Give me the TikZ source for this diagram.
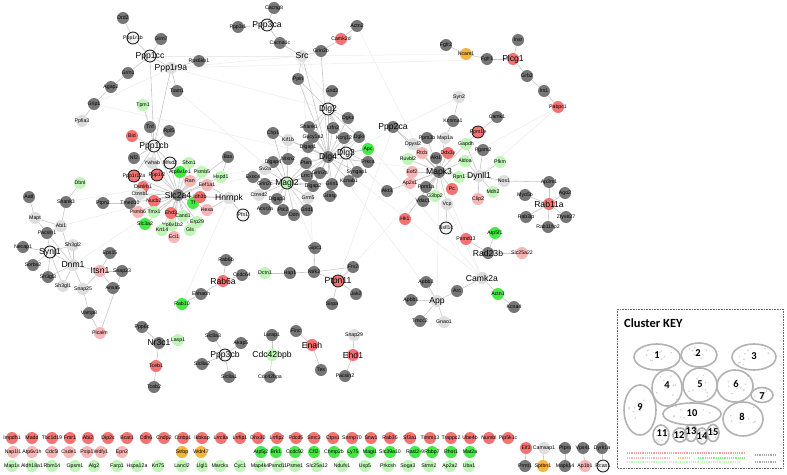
\documentclass[tikz,border=0pt]{standalone}
\usepackage{fontspec}
\setmainfont{Liberation Sans}
\newfontfamily\keyfont{Carlito}
\usetikzlibrary{calc}
\pgfdeclarelayer{edges}
\pgfsetlayers{edges,main}
\definecolor{cDk}{HTML}{767676}
\definecolor{cLy}{HTML}{DEDEDE}
\definecolor{cRd}{HTML}{F47272}
\definecolor{cPk}{HTML}{F8B5B5}
\definecolor{cGn}{HTML}{45E845}
\definecolor{cLg}{HTML}{C0F5B8}
\definecolor{cOr}{HTML}{F4B43E}

\begin{document}
\begin{tikzpicture}[x=1pt, y=-1pt,
  nd/.style={circle, inner sep=0pt, minimum size=12pt},
  dk/.style={nd, fill=cDk}, ly/.style={nd, fill=cLy}, rd/.style={nd, fill=cRd},
  pk/.style={nd, fill=cPk}, gn/.style={nd, fill=cGn}, lg/.style={nd, fill=cLg},
  og/.style={nd, fill=cOr}, wt/.style={nd, fill=white!95!black},
  ring/.style={draw=black!85, line width=0.9pt},
  t/.style={label={[font=\fontsize{5.2}{6}\selectfont, inner sep=0pt]center:#1}},
  big/.style={label={[font=\fontsize{8.6}{9}\selectfont, inner sep=0pt]center:#1}},
  ed/.style={draw=black!22, line width=0.6pt},
  fe/.style={draw=black!8, line width=0.5pt},
  kel/.style={draw=black!30, line width=1.6pt},
  knum/.style={font=\keyfont\bfseries\fontsize{10.5}{11}\selectfont, inner sep=0pt}]
\useasboundingbox (0,0) rectangle (787,474);

% Ppp1cc / Ppp1cb
\node[dk, t=Drd2] (Drd2) at (123,18) {};
\node[wt, ring, t=Ppp1r1b] (Ppp1r1b) at (133,38) {};
\node[dk, t=Grm7] (Grm7) at (161,39) {};
\node[wt, ring, big=Ppp1cc] (Ppp1cc) at (150,56) {};
\node[ly, big=Ppp1r9a] (Ppp1r9a) at (171,68) {};
\node[dk, t=Rps6kb1] (Rps6kb1) at (199,61) {};
\node[dk, t=Grm1] (Grm1) at (128,73) {};
\node[dk, t=Agap2] (Agap2) at (111,87) {};
\node[dk, t=Tiam1] (Tiam1) at (177,91) {};
\node[dk, t=Grip1] (Grip1) at (94,104) {};
\node[ly, t=Ppfia3] (Ppfia3) at (82,121) {};
\node[lg, t=Tpm1] (Tpm1) at (143,105) {};
\node[dk, t=Tnf] (Tnf) at (150,127) {};
\node[dk, t=Rpl5] (Rpl5) at (169,131) {};
\node[rd, t=Bid] (Bid) at (132,136) {};
\node[wt, ring, big=Ppp1cb] (Ppp1cb) at (154,146) {};
\node[dk, t=Ppp3r1] (Ppp3r1) at (238,27) {};

% Src / Dlg4 / Magi2
\node[dk, t=Cacng8] (Cacng8) at (274,8) {};
\node[wt, ring, big=Ppp3ca] (Ppp3ca) at (267,25) {};
\node[dk, t=Cacna1c] (Cacna1c) at (280,43) {};
\node[ly, big=Src] (Src) at (302,56) {};
\node[dk, t=Grin2b] (Grin2b) at (321,51) {};
\node[rd, t=Camk2d] (Camk2d) at (341,39) {};
\node[dk, t=Actn2] (Actn2) at (357,26) {};
\node[dk, t=Ppin] (Ppin) at (298,79) {};
\node[dk, t=Grid2] (Grid2) at (332,91) {};
\node[wt, ring, big=Dlg2] (Dlg2) at (328,109) {};
\node[dk, t=Dgkz] (Dgkz) at (348,118) {};
\node[dk, t=Chp1] (Chp1) at (273,133) {};
\node[ly, t=Kif1b] (Kif1b) at (288,140) {};
\node[dk, t=Shank1] (Shank1) at (309,127) {};
\node[dk, t=Lrfn2] (Lrfn2) at (333,128) {};
\node[dk, t=Gucy1a2] (Gucy1a2) at (313,137) {};
\node[dk, t=Kcnj12] (Kcnj12) at (344,138) {};
\node[dk, t=Dgki] (Dgki) at (359,137) {};
\node[dk, t=Dlgap1] (Dlgap1) at (308,147) {};
\node[gn, t=Apc] (Apc) at (368,149) {};
\node[dk, big=Dlg4] (Dlg4) at (328,157) {};
\node[wt, ring, big=Dlg3] (Dlg3) at (346,153) {};
\node[dk, t=Dlgap4] (Dlgap4) at (273,162) {};
\node[dk, t=Nrxn2] (Nrxn2) at (288,159) {};
\node[ly, t=Sv2a] (Sv2a) at (265,169) {};
\node[dk, t=Pten] (Pten) at (306,163) {};
\node[dk, t=Lrrc7] (Lrrc7) at (307,176) {};
\node[dk, t=Grin2a] (Grin2a) at (320,173) {};
\node[dk, t=Exoc4] (Exoc4) at (253,177) {};
\node[dk, t=Grin2c] (Grin2c) at (265,184) {};
\node[lg, ring, big=Magi2] (Magi2) at (287,183) {};
\node[dk, t=Dlgap2] (Dlgap2) at (313,186) {};
\node[dk, t=Grin1] (Grin1) at (332,184) {};
\node[dk, t=Syngap1] (Syngap1) at (357,172) {};
\node[dk, t=Kcnab1] (Kcnab1) at (349,181) {};
\node[dk, t=Prkca] (Prkca) at (368,162) {};
\node[ly, t=Ctnnd2] (Ctnnd2) at (259,195) {};
\node[dk, t=Dlgap3] (Dlgap3) at (277,199) {};
\node[ly, t=Grm5] (Grm5) at (308,198) {};
\node[dk, t=Grasp] (Grasp) at (330,196) {};
\node[dk, t=Acvr2a] (Acvr2a) at (265,209) {};
\node[dk, t=Ptk2] (Ptk2) at (283,210) {};
\node[dk, t=Grid1] (Grid1) at (307,210) {};
\node[dk, t=Ddn] (Ddn) at (294,215) {};

% Slc2a4 / Hnrnpk
\node[dk, t=Nf2] (Nf2) at (134,158) {};
\node[ly, t=Ywhab] (Ywhab) at (152,163) {};
\node[wt, ring, t=Mfsd2] (Mfsd2) at (170,163) {};
\node[lg, t=Sfxn1] (Sfxn1) at (189,163) {};
\node[rd, ring, t=Ppp1r12a] (Ppp1r12a) at (134,176) {};
\node[rd, ring, t=Ppp1r2] (Ppp1r2) at (157,175) {};
\node[gn, t=Atp6v1e1] (Atp6v1e1) at (180,172) {};
\node[pk, t=Ran] (Ran) at (190,181) {};
\node[rd, t=Dynlrb1] (Dynlrb1) at (143,187) {};
\node[ly, t=Ctnnb1] (Ctnnb1) at (140,194) {};
\node[dk, big=Slc2a4] (Slc2a4) at (178,195) {};
\node[rd, t=Nucb2] (Nucb2) at (154,201) {};
\node[dk, t=Tmed10] (Tmed10) at (130,203) {};
\node[dk, t=Ptpn2] (Ptpn2) at (103,203) {};
\node[pk, t=Psmb6] (Psmb6) at (138,212) {};
\node[lg, t=Tmx1] (Tmx1) at (154,212) {};
\node[rd, t=Ehd3] (Ehd3) at (171,213) {};
\node[gn, t=Tf] (Tf) at (193,203) {};
\node[lg, t=Cand1] (Cand1) at (183,216) {};
\node[lg, t=Erp29] (Erp29) at (197,222) {};
\node[gn, t=Slc3a2] (Slc3a2) at (145,224) {};
\node[lg, t=Atp6v1b2] (Atp6v1b2) at (172,225) {};
\node[lg, t=Krt14] (Krt14) at (162,230) {};
\node[lg, t=Gls] (Gls) at (190,230) {};
\node[pk, t=Eci1] (Eci1) at (174,237) {};
\node[rd, t=Idh3b] (Idh3b) at (200,197) {};
\node[lg, t=Psmb5] (Psmb5) at (202,172) {};
\node[pk, t=Eef1a1] (Eef1a1) at (207,185) {};
\node[pk, t=Hexa] (Hexa) at (207,210) {};
\node[lg, t=Hspd1] (Hspd1) at (221,177) {};
\node[dk, t=Bax] (Bax) at (228,157) {};
\node[ly, big=Hnrnpk] (Hnrnpk) at (229,198) {};
\node[wt, ring, t=Pfn1] (Pfn1) at (243,215) {};

% Synj1 / Dnm1 / Itsn1
\node[lg, t=Dbnl] (Dbnl) at (80,183) {};
\node[dk, t=Aatf] (Aatf) at (29,197) {};
\node[dk, t=Shank3] (Shank3) at (66,202) {};
\node[ly, t=Mapt] (Mapt) at (35,218) {};
\node[ly, t=Abi1] (Abi1) at (61,226) {};
\node[dk, t=Pacsin1] (Pacsin1) at (47,233) {};
\node[ly, t=Sh3gl2] (Sh3gl2) at (73,245) {};
\node[dk, t=Necap1] (Necap1) at (23,247) {};
\node[wt, ring, big=Synj1] (Synj1) at (50,252) {};
\node[ly, big=Dnm1] (Dnm1) at (73,265) {};
\node[dk, t=Sorbs2] (Sorbs2) at (33,265) {};
\node[dk, t=Sh3gl3] (Sh3gl3) at (48,277) {};
\node[ly, t=Sh3gl1] (Sh3gl1) at (63,286) {};
\node[ly, t=Snap25] (Snap25) at (83,289) {};
\node[pk, big=Itsn1] (Itsn1) at (100,271) {};
\node[dk, t=Eps15] (Eps15) at (110,253) {};
\node[dk, t=Snap23] (Snap23) at (122,271) {};
\node[dk, t=Anxa5] (Anxa5) at (113,288) {};
\node[dk, t=Vamp8] (Vamp8) at (89,313) {};
\node[pk, t=Picalm] (Picalm) at (100,333) {};

% Plcg1
\node[dk, t=Fgfr2] (Fgfr2) at (446,45) {};
\node[og, t=Ncam1] (Ncam1) at (466,54) {};
\node[dk, t=Fgfr1] (Fgfr1) at (487,59) {};
\node[rd, big=Plcg1] (Plcg1) at (513,59) {};
\node[dk, t=Insr] (Insr) at (518,40) {};
\node[dk, t=Grb2] (Grb2) at (527,76) {};
\node[dk, t=Irs1] (Irs1) at (544,91) {};
\node[rd, t=Pabpc1] (Pabpc1) at (558,107) {};

% Mapk3 / Dynll1
\node[ly, t=Syn2] (Syn2) at (459,97) {};
\node[dk, t=Kcnma1] (Kcnma1) at (453,121) {};
\node[dk, t=Camk1] (Camk1) at (497,117) {};
\node[rd, ring, t=Ppm1e] (Ppm1e) at (478,132) {};
\node[dk, big=Ppp2ca] (Ppp2ca) at (393,127) {};
\node[ly, t=Dpysl2] (Dpysl2) at (413,144) {};
\node[dk, t=Ppm3b] (Ppm3b) at (427,138) {};
\node[ly, t=Map1a] (Map1a) at (445,138) {};
\node[lg, t=Gapdh] (Gapdh) at (466,144) {};
\node[dk, t=Pgam2] (Pgam2) at (483,150) {};
\node[pk, t=Rtcb] (Rtcb) at (422,153) {};
\node[rd, t=Ddx3y] (Ddx3y) at (448,153) {};
\node[dk, t=Akt1] (Akt1) at (436,158) {};
\node[lg, t=Ruvbl2] (Ruvbl2) at (408,159) {};
\node[lg, t=Aldoa] (Aldoa) at (465,161) {};
\node[lg, t=Pfkm] (Pfkm) at (500,162) {};
\node[pk, t=Eef2] (Eef2) at (412,172) {};
\node[dk, big=Mapk3] (Mapk3) at (439,172) {};
\node[ly, big=Dynll1] (Dynll1) at (479,176) {};
\node[lg, t=Rpn1] (Rpn1) at (459,177) {};
\node[ly, t=Nos1] (Nos1) at (504,181) {};
\node[pk, t=Ap2s1] (Ap2s1) at (410,183) {};
\node[dk, t=Ppm1a] (Ppm1a) at (426,187) {};
\node[rd, t=Pc] (Pc) at (452,189) {};
\node[dk, t=Akt3] (Akt3) at (387,191) {};
\node[lg, t=G3bp2] (G3bp2) at (435,196) {};
\node[lg, t=Mdh2] (Mdh2) at (493,192) {};
\node[pk, t=Clip2] (Clip2) at (478,199) {};
\node[dk, t=Vdac1] (Vdac1) at (423,201) {};
\node[ly, t=Vcp] (Vcp) at (447,204) {};
\node[rd, t=Hk1] (Hk1) at (405,219) {};
\node[wt, ring, t=Nsfl1c] (Nsfl1c) at (446,228) {};
\node[gn, t=Atp5f1] (Atp5f1) at (495,233) {};
\node[rd, t=Psmd13] (Psmd13) at (466,239) {};
\node[dk, big=Rad23b] (Rad23b) at (488,253) {};
\node[pk, t=Slc25a22] (Slc25a22) at (522,253) {};

% Rab11a
\node[dk, t=Ap3m1] (Ap3m1) at (549,182) {};
\node[dk, t=Myo5b] (Myo5b) at (525,195) {};
\node[dk, t=Ago2] (Ago2) at (565,193) {};
\node[rd, big=Rab11a] (Rab11a) at (549,204) {};
\node[dk, t=Rab3ip] (Rab3ip) at (526,217) {};
\node[dk, t=Zfyve27] (Zfyve27) at (566,217) {};
\node[dk, t=Rab11fip2] (Rab11fip2) at (548,227) {};

% small groups
\node[dk, t=Gipc1] (Gipc1) at (315,248) {};
\node[dk, t=Rab6b] (Rab6b) at (226,260) {};
\node[dk, t=Frs2] (Frs2) at (353,267) {};
\node[lg, t=Dctn1] (Dctn1) at (265,273) {};
\node[dk, t=Hap1] (Hap1) at (290,273) {};
\node[dk, t=Ntrk2] (Ntrk2) at (314,272) {};
\node[rd, ring, big=Ptpn11] (Ptpn11) at (338,281) {};
\node[dk, t=Sirpa] (Sirpa) at (332,304) {};
\node[dk, t=Jak2] (Jak2) at (356,294) {};
\node[rd, big=Rab6a] (Rab6a) at (223,281) {};
\node[dk, t=Ccdc64] (Ccdc64) at (242,275) {};
\node[dk, t=Ehhadh] (Ehhadh) at (201,294) {};
\node[gn, t=Rab10] (Rab10) at (182,304) {};
\node[dk, t=Apbb3] (Apbb3) at (426,282) {};
\node[ly, big=Camk2a] (Camk2a) at (482,278) {};
\node[dk, t=Arc] (Arc) at (457,291) {};
\node[dk, t=Apbb1] (Apbb1) at (411,300) {};
\node[ly, big=App] (App) at (437,301) {};
\node[gn, t=Actn1] (Actn1) at (498,294) {};
\node[dk, t=Kcna4] (Kcna4) at (514,307) {};
\node[dk, t=Tmcc2] (Tmcc2) at (420,321) {};
\node[ly, t=Gnao1] (Gnao1) at (444,322) {};
\node[dk, t=Ppp6c] (Ppp6c) at (142,327) {};
\node[dk, big=Nr3c1] (Nr3c1) at (159,343) {};
\node[lg, t=Lasp1] (Lasp1) at (178,340) {};
\node[rd, t=Tceb1] (Tceb1) at (156,366) {};
\node[dk, t=Tceb2] (Tceb2) at (154,387) {};
\node[dk, t=Slc8a3] (Slc8a3) at (213,336) {};
\node[dk, t=Akap5] (Akap5) at (241,343) {};
\node[wt, ring, big=Ppp3cb] (Ppp3cb) at (225,355) {};
\node[dk, t=Slc8a2] (Slc8a2) at (202,364) {};
\node[dk, t=Slc8a1] (Slc8a1) at (229,377) {};
\node[dk, t=Lurap1] (Lurap1) at (272,335) {};
\node[lg, big=Cdc42bpb] (Cdc42bpb) at (272,355) {};
\node[dk, t=Cdc42bpa] (Cdc42bpa) at (270,377) {};
\node[dk, t=Flnc] (Flnc) at (296,331) {};
\node[rd, big=Enah] (Enah) at (312,345) {};
\node[dk, t=Tes] (Tes) at (321,370) {};
\node[ly, t=Snap29] (Snap29) at (354,335) {};
\node[rd, big=Ehd1] (Ehd1) at (353,355) {};
\node[dk, t=Pacsin2] (Pacsin2) at (345,376) {};

% unconnected rows
\foreach \n/\x in {Impdh1/12, Madd/32, Tbc1d19/52, Fmr1/70, Abi2/88, Dip2c/108, Bcat1/127, Cdh6/146,
  Cndp2/164, Ctnbp1/183, Ikbkap/202, Lrrc8a/221, Lrrfip1/240, Dhx30/258, Lrrfip2/277, Pdcd5/296,
  Smc3/314, Ctps1/333, Snrnp70/352, Snw1/371, Rab35/390, Sf3a1/410, Timm13/430, Trappc2/451,
  Ube4b/470, Numbl/489, Pip5k1c/508}
  \node[rd, t=\n] (\n) at (\x,438) {};
\foreach \n/\x in {Nap1l1/13, Atp6v1h/32, Cdc5l/52, Csde1/69, Psip1/87, Wdfy1/101, Epn2/122}
  \node[pk, t=\n] (\n) at (\x,452) {};
\foreach \n/\x in {Strbp/182, Wdr47/201}
  \node[og, t=\n] (\n) at (\x,452) {};
\foreach \n/\x in {Atp5j2/261, Brk1/276, Ccdc92/295, Cfl2/314, Chmp2b/334, Ly75/353, Magi1/370,
  Slc39a10/390, Rasl2-9/415, Rbbp7/432, Rhot1/451, Mat2a/470}
  \node[gn, t=\n] (\n) at (\x,452) {};
\foreach \n/\x in {Map1s/12, Aldh18a1/32, Rbm14/52, Gpsm1/75, Alg2/94, Farp1/117, Hspa12a/137,
  Krt75/158, Lancl2/182, Llgl1/202, Marcks/220, Cyc1/240, Map4k4/260, Psmd11/278, Psme1/295,
  Slc25a12/317, Ndufs1/342, Usp5/365, Prkcsh/388, Soga3/408, Stmn2/429, Ap2a2/450, Uba1/469}
  \node[lg, t=\n] (\n) at (\x,466) {};

% pairs
\node[rd, t=Eif3] (Eif3) at (526,448) {};
\node[ly, t=Camsap1] (Camsap1) at (544,448) {};
\node[dk, t=Ptprs] (Ptprs) at (565,448) {};
\node[dk, t=Vps41] (Vps41) at (583,448) {};
\node[dk, t=Dyrk1a] (Dyrk1a) at (602,448) {};
\node[dk, t=Prmt1] (Prmt1) at (525,466) {};
\node[og, t=Sptbn1] (Sptbn1) at (543,466) {};
\node[dk, t=Mapk14] (Mapk14) at (565,466) {};
\node[pk, t=Ap1b1] (Ap1b1) at (585,466) {};
\node[wt, ring, t=Rcan1] (Rcan1) at (603,466) {};

\begin{pgfonlayer}{edges}
% long faint links
\foreach \a/\b in {Ppp1r9a/Dlg2, Grip1/Dlg4, Ppp1r9a/Src, Tiam1/Magi2, Ppp1cc/Src, Hnrnpk/Magi2,
  Slc2a4/Dlg4, Abi1/Slc2a4, Shank3/Dlg4, Camk2a/Dlg4, Camk2a/Mapk3, App/Dlg4, Syn2/Dlg3,
  Pabpc1/Mapk3, Pabpc1/Dynll1, Ncam1/Src, Ppp2ca/Ptpn11, Src/Ntrk2, Gipc1/Magi2, Mapk3/Ptpn11,
  Rab10/Hnrnpk, Ppp1r9a/Plcg1, Akt3/Dlg3, Camk2a/Ppp3ca, Grip1/Ppp1r9a, Dynll1/Dlg4,
  Camk2a/Actn2, App/Mapk3, Dnm1/Slc2a4}
  \draw[fe] (\a) -- (\b);
\foreach \a/\b in {Drd2/Ppp1r1b, Ppp1r1b/Ppp1cc, Grm7/Ppp1cc, Ppp1cc/Ppp1r9a, Ppp1r9a/Rps6kb1,
  Ppp1r9a/Tiam1, Ppp1cc/Grm1, Grm1/Agap2, Agap2/Grip1, Grip1/Ppfia3, Tpm1/Tnf, Tnf/Ppp1cb,
  Rpl5/Ppp1cb, Bid/Ppp1cb, Ppp1cc/Ppp1cb, Ppp1r9a/Ppp1cb, Ppp1cb/Nf2, Ppp1cb/Ywhab,
  Ppp1cb/Mfsd2, Ppp1cb/Ppp1r12a, Ppp1cb/Ppp1r2, Ppp1cb/Slc2a4,
  Tmed10/Ptpn2, Hnrnpk/Pfn1, Hnrnpk/Idh3b, Hnrnpk/Eef1a1, Hnrnpk/Hexa, Hspd1/Bax,
  Dbnl/Shank3, Shank3/Abi1, Aatf/Mapt, Mapt/Abi1, Mapt/Pacsin1, Abi1/Pacsin1, Abi1/Dnm1,
  Pacsin1/Synj1, Pacsin1/Dnm1, Synj1/Necap1, Synj1/Sorbs2, Synj1/Dnm1, Synj1/Sh3gl3,
  Synj1/Sh3gl1, Synj1/Sh3gl2, Dnm1/Sh3gl2, Dnm1/Sh3gl3, Dnm1/Sh3gl1, Dnm1/Snap25, Dnm1/Itsn1,
  Itsn1/Eps15, Itsn1/Snap23, Itsn1/Anxa5, Itsn1/Snap25, Snap25/Vamp8, Vamp8/Picalm, Picalm/Snap23,
  Ppp3ca/Cacng8, Ppp3ca/Cacna1c, Ppp3r1/Ppp3ca, Cacna1c/Src, Src/Grin2b, Grin2b/Camk2d,
  Camk2d/Actn2, Src/Ppin, Ppin/Dlg4, Ppin/Dlg2, Grin2b/Dlg4, Src/Dlg4,
  Grid2/Dlg2, Dlg2/Dgkz, Dlg2/Shank1, Dlg2/Lrfn2, Dlg2/Gucy1a2, Dlg2/Kcnj12, Dlg2/Dlg4,
  Dlg2/Dlg3, Dlg2/Dgki, Dlg3/Apc, Dlg3/Prkca, Dlg3/Syngap1, Dlg3/Kcnab1, Dlg3/Grin1,
  Dlg3/Dgki, Dlg3/Kcnj12,
  Map1a/Kcnma1, Kcnma1/Syn2, Ppm1e/Camk1, Ppm1e/Gapdh, Dynll1/Pfkm, Dynll1/Nos1, Dynll1/Mdh2,
  Dynll1/Clip2, Dynll1/Aldoa, Dynll1/Pgam2, Dynll1/Rpn1, Dynll1/Gapdh, Vcp/Nsfl1c,
  Psmd13/Rad23b, Atp5f1/Rad23b, Rad23b/Slc25a22, Nos1/Ap3m1, Ppp2ca/Dpysl2,
  Fgfr2/Ncam1, Ncam1/Fgfr1, Fgfr1/Plcg1, Plcg1/Insr, Plcg1/Grb2, Grb2/Irs1, Irs1/Pabpc1,
  Rab6a/Ehhadh, Ehhadh/Rab10, Rab6a/Ccdc64, Rab6a/Rab6b, Dctn1/Hap1, Hap1/Ntrk2,
  Ntrk2/Ptpn11, Ntrk2/Frs2, Frs2/Ptpn11, Ptpn11/Jak2, Ptpn11/Sirpa, Ntrk2/Gipc1,
  Apbb3/App, Apbb1/App, Tmcc2/App, Gnao1/App, Arc/App, Arc/Camk2a, Camk2a/Actn1, Actn1/Kcna4,
  Ppp6c/Nr3c1, Lasp1/Nr3c1, Nr3c1/Tceb1, Tceb1/Tceb2,
  Cdc42bpb/Lurap1, Cdc42bpb/Cdc42bpa, Enah/Flnc, Enah/Tes, Ehd1/Snap29, Ehd1/Pacsin2,
  Eif3/Prmt1, Camsap1/Sptbn1, Ptprs/Mapk14, Vps41/Ap1b1, Dyrk1a/Rcan1}
  \draw[ed] (\a) -- (\b);
\foreach \b in {Ywhab, Mfsd2, Sfxn1, Atp6v1e1, Ran, Psmb5, Eef1a1, Idh3b, Tf, Hexa, Cand1, Erp29,
  Gls, Atp6v1b2, Eci1, Krt14, Slc3a2, Ehd3, Tmx1, Psmb6, Nucb2, Ctnnb1, Dynlrb1, Ppp1r12a,
  Ppp1r2, Hnrnpk, Hspd1, Tmed10, Bax}
  \draw[ed] (Slc2a4) -- (\b);
\foreach \b in {Shank1, Lrfn2, Gucy1a2, Kcnj12, Dgki, Dlgap1, Dlg3, Apc, Prkca, Syngap1, Kcnab1,
  Grin1, Grin2a, Dlgap2, Grasp, Pten, Chp1, Kif1b, Dgkz, Magi2, Grm5, Lrrc7}
  \draw[ed] (Dlg4) -- (\b);
\foreach \b in {Dlgap4, Nrxn2, Pten, Sv2a, Exoc4, Grin2c, Ctnnd2, Dlgap3, Acvr2a, Ptk2, Ddn, Grid1,
  Grm5, Lrrc7, Grin2a, Dlgap2, Grin1, Kif1b, Chp1}
  \draw[ed] (Magi2) -- (\b);
\foreach \b in {Dpysl2, Ppm3b, Map1a, Rtcb, Akt1, Ddx3y, Ruvbl2, Eef2, Ap2s1, Ppm1a, Pc, Rpn1,
  G3bp2, Vdac1, Vcp, Akt3, Gapdh, Aldoa, Dynll1, Hk1, Ppp2ca}
  \draw[ed] (Mapk3) -- (\b);
\foreach \b in {Ap3m1, Ago2, Myo5b, Rab3ip, Zfyve27, Rab11fip2}
  \draw[ed] (Rab11a) -- (\b);
\foreach \b in {Slc8a3, Akap5, Slc8a2, Slc8a1}
  \draw[ed] (Ppp3cb) -- (\b);
\end{pgfonlayer}

% cluster key
\draw[black!60, densely dotted, line width=0.6pt] (617,309) rectangle (783,468);
\node[anchor=west, font=\keyfont\bfseries\fontsize{12.5}{13}\selectfont, inner sep=0pt] (keytitle) at (624,323) {Cluster KEY};
\pgfmathsetseed{11}
\foreach \cx/\cy/\rx/\ry/\k in {657/357/23/13/1, 699/355/18/12/2, 754/357/22/13/3, 667/388/15/18/4,
  700/385/17/17/5, 735/386/18/16/6, 762/395/11/7.5/7, 743/419/20/17/8, 640/410/16/25/9,
  692/414/29/11/10, 661/435/8/10/11, 680/435/7/7/12, 691/433/6/8.5/13, 702/436/5.5/8/14,
  713/433/6/8.5/15} {
  \foreach \i in {1,...,9}
    \fill[black!18] ($(\cx,\cy)+({0.7*\rx*(2*rnd-1)},{0.7*\ry*(2*rnd-1)})$) circle[radius=0.9pt];
  \draw[kel] (\cx,\cy) ellipse[x radius=\rx, y radius=\ry];
}
\node[knum] (k1) at (657,355) {1};
\node[knum] (k2) at (698,353) {2};
\node[knum] (k3) at (754,356) {3};
\node[knum] (k4) at (667,385) {4};
\node[knum] (k5) at (700,384) {5};
\node[knum] (k6) at (736,384) {6};
\node[knum] (k7) at (762,396) {7};
\node[knum] (k8) at (742,417) {8};
\node[knum] (k9) at (640,407) {9};
\node[knum] (k10) at (692,413) {10};
\node[knum] (k11) at (662,433) {11};
\node[knum] (k12) at (679,435) {12};
\node[knum] (k13) at (691,431) {13};
\node[knum] (k14) at (702,436) {14};
\node[knum] (k15) at (713,432) {15};
\draw[cRd!70, densely dotted, line width=1.2pt] (627,453) -- (745,453);
\draw[cPk, densely dotted, line width=1.2pt] (627,458) -- (670,458);
\draw[cOr!70, densely dotted, line width=1.2pt] (678,458) -- (690,458);
\draw[cGn!70, densely dotted, line width=1.2pt] (698,458) -- (745,458);
\draw[cLg, densely dotted, line width=1.2pt] (627,462) -- (740,462);
\draw[black!35, densely dotted, line width=1.2pt] (755,455) -- (777,455);
\draw[black!35, densely dotted, line width=1.2pt] (755,462) -- (777,462);
\end{tikzpicture}
\end{document}
